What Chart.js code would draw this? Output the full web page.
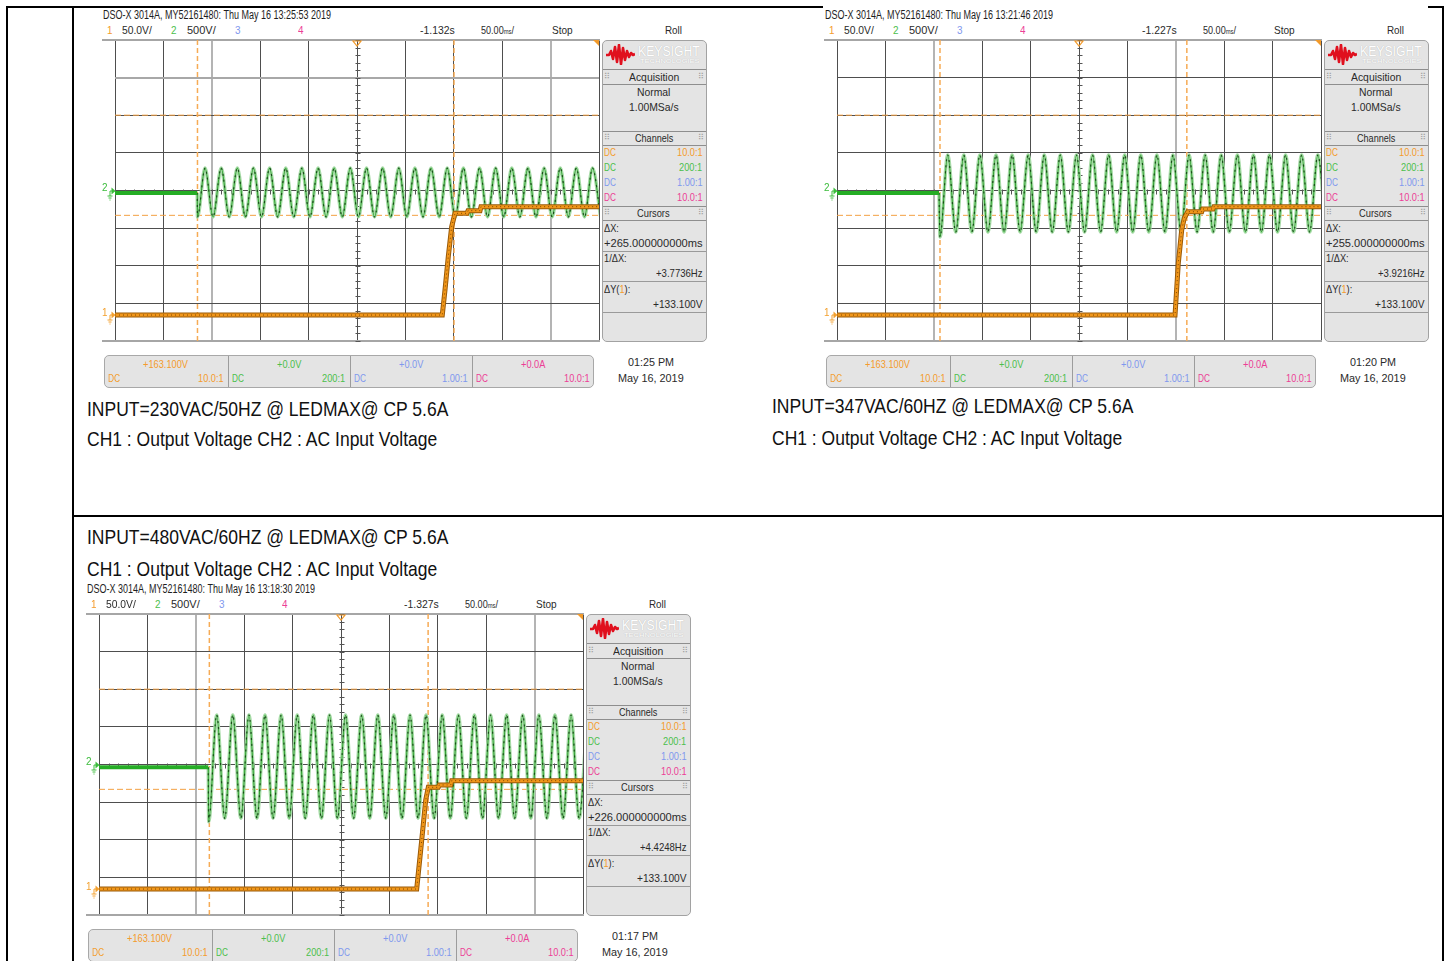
<!DOCTYPE html>
<html lang="en">
<head>
<meta charset="utf-8">
<title>LEDMAX CP 5.6A start-up waveforms</title>
<script src="https://cdn.jsdelivr.net/npm/chart.js@4.4.1/dist/chart.umd.min.js"></script>
<style>
  html, body { margin:0; padding:0; background:#fff; }
  body { width:1449px; height:961px; position:relative; overflow:hidden;
         font-family:"Liberation Sans", Arial, sans-serif; }
  .box { position:absolute; box-sizing:border-box; }
  .rule { position:absolute; background:#000; }
  .t { position:absolute; white-space:nowrap; line-height:1; transform-origin:0 50%; }
  .scope { position:absolute; width:610px; height:384px; }
</style>
</head>
<body>
<script>
// Time axis: ms relative to the screen centre (50 ms/div, 10 div).
// CH1 output voltage in V, CH2 AC input voltage in V.

// ---- 230 VAC / 50 Hz ----
const tlEdge = [-165.0, -33];            // CH2 time the AC appears, level before it
const tlSpike = [-164.8, -352];
const tlPeakT = [-157.0,-140.3,-123.6,-107.0,-90.3,-73.6,-56.9,-40.2,-23.6,-6.9,9.8,26.5,43.2,59.8,76.5,93.2,109.9,126.6,143.2,159.9,176.6,193.3,210.0,226.6,243.3];
const tlTroughT = [-148.7,-132.0,-115.3,-98.6,-81.9,-65.3,-48.6,-31.9,-15.2,1.5,18.1,34.8,51.5,68.2,84.9,101.5,118.2,134.9,151.6,168.3,184.9,201.6,218.3,235.0,251.7];
const tlPeakV = 299, tlTroughV = -352;
const tlOutT = [-250, 88.1, 90.9, 94.3, 97.8, 101.2, 113.6, 114.7, 127.1, 128.1, 250];
const tlOutV = [0, 0, 33.3, 77.5, 117.4, 135.2, 135.2, 138.7, 138.7, 144.0, 144.0];
const tlCursorT = [-164.8, 100.2];
const tlCursorV = [265.6, 132.5];

// ---- 347 VAC / 60 Hz ----
const trEdge = [-144.6, -33];
const trSpike = [-143.6, -618];
const trPeakT = [-135.6,-119.0,-102.4,-85.7,-69.1,-52.5,-35.9,-19.3,-2.6,14.0,30.6,47.2,63.8,80.5,97.1,113.7,130.3,146.9,163.6,180.2,196.8,213.4,230.0,246.7];
const trTroughT = [-127.3,-110.7,-94.1,-77.4,-60.8,-44.2,-27.6,-11.0,5.7,22.3,38.9,55.5,72.1,88.8,105.4,122.0,138.6,155.2,171.9,188.5,205.1,221.7,238.3,255.0];
const trPeakV = 472, trTroughV = -551;
const trOutT = [-250, 99.2, 102.6, 106.1, 108.8, 112.3, 126.8, 127.8, 138.4, 139.4, 250];
const trOutV = [0, 0, 69.2, 113.0, 129.0, 137.3, 137.3, 140.9, 140.9, 144.0, 144.0];
const trCursorT = [-143.6, 111.4];
const trCursorV = [265.6, 132.5];

// ---- 480 VAC / 60 Hz ----
const bEdge = [-137.1, -37];
const bSpike = [-136.7, -760];
const bPeakT = [-128.4,-111.8,-95.1,-78.5,-61.8,-45.2,-28.6,-11.9,4.7,21.4,38.0,54.6,71.3,87.9,104.6,121.2,137.8,154.5,171.1,187.8,204.4,221.0,237.7,254.3];
const bTroughT = [-120.1,-103.4,-86.8,-70.2,-53.5,-36.9,-20.2,-3.6,13.0,29.7,46.3,63.0,79.6,96.2,112.9,129.5,146.2,162.8,179.4,196.1,212.7,229.4,246.0];
const bPeakV = 658, bTroughV = -715;
const bOutT = [-250, 78.2, 83.4, 87.5, 90.2, 100.5, 101.5, 113.4, 114.4, 250];
const bOutV = [0, 0, 65.2, 118.3, 135.2, 135.2, 138.3, 138.3, 144.0, 144.0];
const bCursorT = [-136.0, 90.0];
const bCursorV = [265.6, 132.5];

// Channel read-outs shared by the three captures
const chanColors = ['#f49b2c', '#4cbf4c', '#7f98ee', '#ec3e96'];
const chanOffsets = ['+163.100V', '+0.0V', '+0.0V', '+0.0A'];
const chanProbes = ['10.0:1', '200:1', '1.00:1', '10.0:1'];

const captures = [
  { ox:100, oy:7, stamp:'DSO-X 3014A, MY52161480: Thu May 16 13:25:53 2019', delay:'-1.132s',
    dx:'+265.000000000ms', inv:'+3.7736Hz', dy:'+133.100V', clock:'01:25 PM',
    edge:tlEdge, spike:tlSpike, peakT:tlPeakT, peakV:tlPeakV, troughT:tlTroughT, troughV:tlTroughV,
    outT:tlOutT, outV:tlOutV, curT:tlCursorT, curV:tlCursorV, greyX:[2,9], greyY:[7] },
  { ox:822, oy:7, stamp:'DSO-X 3014A, MY52161480: Thu May 16 13:21:46 2019', delay:'-1.227s',
    dx:'+255.000000000ms', inv:'+3.9216Hz', dy:'+133.100V', clock:'01:20 PM',
    edge:trEdge, spike:trSpike, peakT:trPeakT, peakV:trPeakV, troughT:trTroughT, troughV:trTroughV,
    outT:trOutT, outV:trOutV, curT:trCursorT, curV:trCursorV, greyX:[2,7], greyY:[] },
  { ox:84, oy:581, stamp:'DSO-X 3014A, MY52161480: Thu May 16 13:18:30 2019', delay:'-1.327s',
    dx:'+226.000000000ms', inv:'+4.4248Hz', dy:'+133.100V', clock:'01:17 PM',
    edge:bEdge, spike:bSpike, peakT:bPeakT, peakV:bPeakV, troughT:bTroughT, troughV:bTroughV,
    outT:bOutT, outV:bOutV, curT:bCursorT, curV:bCursorV, greyX:[2,9], greyY:[] }
];

const captions = [
  { x:87,  y1:408, y2:438, head:'INPUT=230VAC/50HZ @ LEDMAX@ CP 5.6A' },
  { x:772, y1:405, y2:437, head:'INPUT=347VAC/60HZ @ LEDMAX@ CP 5.6A' },
  { x:87,  y1:536, y2:568, head:'INPUT=480VAC/60HZ @ LEDMAX@ CP 5.6A' }
];
const subCaption = 'CH1 : Output Voltage CH2 : AC Input Voltage';

// ---------- helpers ----------
function box(parent, x, y, w, h, css) {
  const d = document.createElement('div');
  d.className = 'box';
  d.style.cssText = `left:${x}px;top:${y}px;width:${w}px;height:${h}px;` + (css || '');
  parent.appendChild(d);
  return d;
}
function rule(x, y, w, h) {
  const d = document.createElement('div');
  d.className = 'rule';
  d.style.cssText = `left:${x}px;top:${y}px;width:${w}px;height:${h}px;`;
  document.body.appendChild(d);
}
function txt(parent, s, x, y, o) {
  o = o || {};
  const el = document.createElement('div');
  el.className = 't';
  if (o.html) el.innerHTML = s; else el.textContent = s;
  el.style.fontSize = (o.size || 11) + 'px';
  el.style.color = o.color || '#2a2a2a';
  if (o.weight) el.style.fontWeight = o.weight;
  if (o.css) el.style.cssText += o.css;
  parent.appendChild(el);
  const w = el.offsetWidth, h = el.offsetHeight;
  const sx = o.w ? o.w / w : (o.sx || 0.84);
  let left = x;
  if (o.align === 'center') left = x - w * sx / 2;
  else if (o.align === 'right') left = x - w * sx;
  el.style.left = left + 'px';
  el.style.top = (y - h / 2) + 'px';
  el.style.transform = `scaleX(${sx})`;
  return el;
}
function hline(parent, x, y, w, color) { box(parent, x, y, w, 1, `background:${color || '#8c8c8c'}`); }
function grip(parent, x, y) { txt(parent, '⠿', x, y, { size:8, color:'#a0a0a0', sx:1, css:'font-family:"DejaVu Sans",sans-serif;' }); }

// ---------- table frame ----------
rule(6, 6, 2, 955);
rule(72, 6, 2, 955);
rule(1442, 6, 2, 955);
rule(6, 6, 817, 2);
rule(1428, 6, 16, 2);
rule(72, 515, 1372, 2);

// ---------- captions ----------
captions.forEach(c => {
  txt(document.body, c.head, c.x, c.y1, { size:21, color:'#111', w:361 });
  txt(document.body, subCaption, c.x, c.y2, { size:21, color:'#111', w:350 });
});

// ---------- chart decoration plugin ----------
const scopeDecor = {
  id: 'scopeDecor',
  beforeDatasetsDraw(chart) {
    const { ctx, chartArea: a, scales } = chart;
    ctx.save();
    ctx.strokeStyle = '#a6a6a6';
    ctx.lineWidth = 2;
    ctx.beginPath();
    ctx.moveTo(a.left - 13, a.top); ctx.lineTo(a.right + 1, a.top);
    ctx.moveTo(a.left - 13, a.bottom); ctx.lineTo(a.right + 1, a.bottom);
    ctx.stroke();
    const cx = Math.round(scales.x.getPixelForValue(0)) + 0.5;
    const cy = Math.round(scales.div.getPixelForValue(0)) + 0.5;
    ctx.strokeStyle = '#555';
    ctx.lineWidth = 1;
    ctx.beginPath();
    for (let t = -250; t <= 250; t += 10) {
      const px = Math.round(scales.x.getPixelForValue(t)) + 0.5;
      ctx.moveTo(px, cy - 2); ctx.lineTo(px, cy + 3);
    }
    for (let d = -20; d <= 20; d++) {
      const py = Math.round(scales.div.getPixelForValue(d / 5)) + 0.5;
      ctx.moveTo(cx - 2, py); ctx.lineTo(cx + 3, py);
    }
    ctx.stroke();
    ctx.restore();
  },
  afterDatasetsDraw(chart) {
    const { ctx, chartArea: a, scales } = chart;
    const cx = scales.x.getPixelForValue(0);
    ctx.save();
    ctx.strokeStyle = '#f29a2a';
    ctx.lineWidth = 1.2;
    ctx.beginPath();
    ctx.moveTo(cx - 4, a.top + 1); ctx.lineTo(cx + 4, a.top + 1); ctx.lineTo(cx, a.top + 6); ctx.closePath();
    ctx.stroke();
    ctx.fillStyle = '#f29a2a';
    ctx.beginPath();
    ctx.moveTo(a.right - 6, a.top); ctx.lineTo(a.right, a.top); ctx.lineTo(a.right, a.top + 6); ctx.closePath();
    ctx.fill();
    ctx.restore();
  }
};

function groundMarker(host, digit, color, y) {
  txt(host, digit, 2, y - 3, { size:11, color, sx:0.9 });
  host.insertAdjacentHTML('beforeend',
    `<svg class="box" style="left:6px;top:${y - 5}px" width="10" height="16" viewBox="0 0 10 16">
      <path d="M5.5 1.5 L9.5 5 L5.5 8.5 Z" fill="${color}"/>
      <path d="M4 5 H6 M4 5 V10 M1.5 10 H6.5 M2.5 12 H5.5 M3.5 14 H4.5" stroke="${color}" stroke-width="1" fill="none"/>
    </svg>`);
}

// ---------- one oscilloscope capture ----------
function buildCapture(sc) {
  const host = document.createElement('div');
  host.className = 'scope';
  host.style.left = sc.ox + 'px';
  host.style.top = sc.oy + 'px';
  document.body.appendChild(host);

  // title lines
  txt(host, sc.stamp, 3, 8, { size:12, color:'#1e1e1e', w:228 });
  txt(host, '1', 7, 23, { size:11, color:chanColors[0], sx:0.9 });
  txt(host, '50.0V/', 22, 23, { size:11, w:30 });
  txt(host, '2', 71, 23, { size:11, color:chanColors[1], sx:0.9 });
  txt(host, '500V/', 87, 23, { size:11, w:29 });
  txt(host, '3', 135, 23, { size:11, color:chanColors[2], sx:0.9 });
  txt(host, '4', 198, 23, { size:11, color:chanColors[3], sx:0.9 });
  txt(host, sc.delay, 320, 23, { size:11, w:35 });
  txt(host, '50.00<span style="font-size:7px">ms</span>/', 381, 23, { size:11, w:33, html:true });
  txt(host, 'Stop', 452, 23, { size:11, w:21 });
  txt(host, 'Roll', 565, 23, { size:11, w:17 });

  // waveform screen
  const cv = document.createElement('canvas');
  cv.width = 505; cv.height = 312;
  cv.style.cssText = 'position:absolute;left:0;top:28px;';
  host.appendChild(cv);

  const extremes = sc.peakT.map(t => ({ x:t, y:sc.peakV }))
    .concat(sc.troughT.map(t => ({ x:t, y:sc.troughV })))
    .sort((p, q) => p.x - q.x);
  const wave = [{ x:sc.edge[0], y:sc.edge[1] }, { x:sc.spike[0], y:sc.spike[1] }].concat(extremes);
  const before = [{ x:-250, y:sc.edge[1] }, { x:sc.edge[0], y:sc.edge[1] }];
  const out = sc.outT.map((t, i) => ({ x:t, y:sc.outV[i] }));
  const line = (data, yAxisID, color, width, extra) => Object.assign({
    data, yAxisID, xAxisID:'x', borderColor:color, borderWidth:width,
    pointRadius:0, fill:false, tension:0, clip:0
  }, extra || {});

  const datasets = [
    ...sc.curT.map(t => line([{ x:t, y:-4 }, { x:t, y:4 }], 'div', '#f6ab55', 1.5, { borderDash:[5, 3], order:20 })),
    ...sc.curV.map(v => line([{ x:-250, y:v }, { x:250, y:v }], 'y1', '#f3a043', 1, { borderDash:[6, 3], order:20 })),
    line(wave, 'y2', '#a6dba6', 3.5, { cubicInterpolationMode:'monotone', order:12 }),
    line(wave, 'y2', '#34a334', 1.1, { cubicInterpolationMode:'monotone', order:11 }),
    line(wave, 'y2', '#1d4d1d', 1.2, { cubicInterpolationMode:'monotone', borderDash:[2, 4], order:10 }),
    line(before, 'y2', '#25ad25', 4, { order:9 }),
    line(out, 'y1', '#9a5a08', 5, { order:6 }),
    line(out, 'y1', '#f0961a', 3, { order:5 }),
    line(out, 'y1', '#7e4604', 1, { borderDash:[1, 3], order:4 })
  ];

  const chart = new Chart(cv, {
    type:'line',
    data:{ datasets },
    options:{
      responsive:false, animation:false, devicePixelRatio:1, events:[],
      layout:{ padding:{ left:15, top:5, right:6, bottom:6 } },
      plugins:{ legend:{ display:false }, tooltip:{ enabled:false } },
      scales:{
        x:{ type:'linear', min:-250, max:250,
            ticks:{ display:false, stepSize:50 },
            grid:{ drawTicks:false,
                   color:c => sc.greyX.includes(c.index) ? '#b4b4b4' : '#4e4e4e',
                   lineWidth:c => sc.greyX.includes(c.index) ? 2 : 1 },
            border:{ display:false },
            afterFit:s => { s.height = 0; } },
        div:{ type:'linear', position:'left', min:-4, max:4,
            ticks:{ display:false, stepSize:1 },
            grid:{ drawTicks:false,
                   color:c => (c.index === 0 || c.index === 8) ? 'rgba(0,0,0,0)' :
                              (sc.greyY.includes(c.index) ? '#a8a8a8' : '#4e4e4e'),
                   lineWidth:c => sc.greyY.includes(c.index) ? 2 : 1 },
            border:{ display:false },
            afterFit:s => { s.width = 0; } },
        y1:{ type:'linear', display:false, min:-34.5, max:365.5 },
        y2:{ type:'linear', display:false, min:-2000, max:2000 }
      }
    },
    plugins:[scopeDecor]
  });

  groundMarker(host, '2', '#3cbc3c', chart.scales.y2.getPixelForValue(0) + 28);
  groundMarker(host, '1', '#f3a02e', chart.scales.y1.getPixelForValue(0) + 28);

  // side panel
  box(host, 501.5, 33, 105, 302, 'background:#e4e4e4;border:1px solid #a2a2a2;border-radius:5px;');
  host.insertAdjacentHTML('beforeend',
    `<svg class="box" style="left:506px;top:37px" width="29" height="21" viewBox="0 0 29 21">
      <polyline points="0,11 3,11 5,7 7,15 9,3 11,18 13,1 15,20 17,4 19,16 21,7 23,13 25,9 27,11 29,10"
        fill="none" stroke="#e0101e" stroke-width="2.6" stroke-linejoin="round"/></svg>`);
  txt(host, 'KEYSIGHT', 538, 44, { size:14, color:'#fff', w:62, css:'text-shadow:0 0 1px rgba(0,0,0,0.25);' });
  txt(host, 'TECHNOLOGIES', 540, 54, { size:6, color:'#fff', w:60, css:'text-shadow:0 0 1px rgba(0,0,0,0.25);' });

  const px = 502.5, pw = 103;
  [[62, 77, 'Acquisition', 50, 70], [124, 138, 'Channels', 38, 131], [199, 213, 'Cursors', 33, 206]].forEach(h => {
    hline(host, px, h[0], pw, '#8e8e8e');
    hline(host, px, h[1], pw, '#8e8e8e');
    txt(host, h[2], 553.5, h[4], { size:11, w:h[3], align:'center' });
    grip(host, 504, h[4]);
    grip(host, 598, h[4]);
  });
  txt(host, 'Normal', 553.5, 85, { size:11, w:33, align:'center' });
  txt(host, '1.00MSa/s', 553.5, 100, { size:11, w:50, align:'center' });
  [145, 160, 175, 190].forEach((y, i) => {
    txt(host, 'DC', 504, y, { size:11, color:chanColors[i], w:12 });
    txt(host, chanProbes[i], 603, y, { size:11, color:chanColors[i], align:'right' });
  });
  txt(host, 'ΔX:', 504, 221, { size:11 });
  txt(host, sc.dx, 504, 236, { size:11, w:99 });
  hline(host, px, 244, pw, '#9a9a9a');
  txt(host, '1/ΔX:', 504, 251, { size:11 });
  txt(host, sc.inv, 603, 266, { size:11, w:47, align:'right' });
  hline(host, px, 274, pw, '#9a9a9a');
  txt(host, `ΔY(<span style="color:${chanColors[0]}">1</span>):`, 504, 282, { size:11, html:true });
  txt(host, sc.dy, 603, 297, { size:11, w:50, align:'right' });
  hline(host, px, 305, pw, '#9a9a9a');

  // channel bar
  box(host, 4, 348, 490, 33, 'background:#e4e4e4;border:1px solid #a8a8a8;border-radius:5px;');
  const cells = [4, 128, 250, 372, 494];
  for (let i = 0; i < 4; i++) {
    if (i > 0) box(host, cells[i], 349, 1, 31, 'background:#9c9c9c');
    const mid = (cells[i] + cells[i + 1]) / 2;
    txt(host, chanOffsets[i], mid, 357, { size:11, color:chanColors[i], align:'center' });
    txt(host, 'DC', cells[i] + 4, 371, { size:11, color:chanColors[i], w:12 });
    txt(host, chanProbes[i], cells[i + 1] - 4, 371, { size:11, color:chanColors[i], align:'right' });
  }
  txt(host, sc.clock, 551, 355, { size:11, w:46, align:'center' });
  txt(host, 'May 16, 2019', 551, 371, { size:11, w:66, align:'center' });
}

captures.forEach(buildCapture);
</script>
</body>
</html>
